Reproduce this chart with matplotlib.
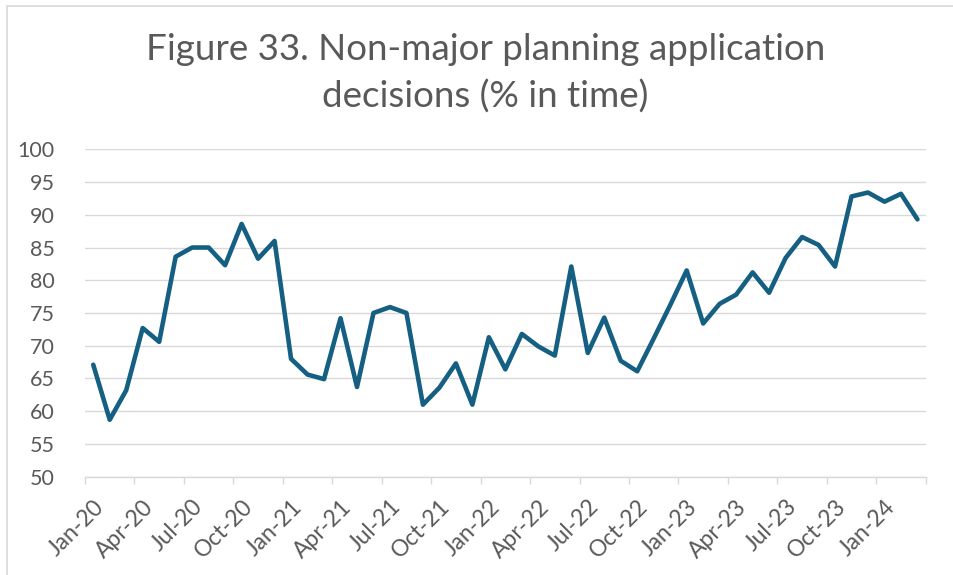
import matplotlib

matplotlib.use("Agg")
import matplotlib.pyplot as plt
from matplotlib.patches import Rectangle

# monthly share of non-major decisions made in time, Jan-20 .. Mar-24
pct_in_time = [
    67.1, 58.7, 63.2, 72.7, 70.6, 83.6, 85.0, 85.0, 82.3, 88.6, 83.3, 86.0,  # 2020
    68.0, 65.6, 64.9, 74.2, 63.7, 75.0, 75.9, 75.0, 61.0, 63.6, 67.3, 61.0,  # 2021
    71.3, 66.4, 71.8, 69.9, 68.5, 82.1, 68.9, 74.3, 67.7, 66.1, 71.1, 76.2,  # 2022
    81.5, 73.4, 76.4, 77.8, 81.2, 78.1, 83.4, 86.6, 85.4, 82.1, 92.8, 93.4,  # 2023
    92.0, 93.2, 89.3,                                                         # 2024
]
quarter_labels = ["Jan-20", "Apr-20", "Jul-20", "Oct-20", "Jan-21", "Apr-21",
                  "Jul-21", "Oct-21", "Jan-22", "Apr-22", "Jul-22", "Oct-22",
                  "Jan-23", "Apr-23", "Jul-23", "Oct-23", "Jan-24"]
title_lines = ["Figure 33. Non-major planning application",
               "decisions (% in time)"]

LINE = "#156082"
GRID = "#D9D9D9"
TEXT = "#595959"
FONT = ["Lato", "DejaVu Sans"]
W, H = 954, 575

fig = plt.figure(figsize=(W / 100, H / 100), dpi=100)
fig.patches.append(Rectangle((7 / W, -0.01), 1.02, 1 - 6 / H + 0.01,
                             transform=fig.transFigure, fill=False,
                             edgecolor=GRID, lw=1.2))

ax = fig.add_axes([85 / W, (H - 476.7) / H, 840.7 / W, 327.4 / H])
n = len(pct_in_time)
x = list(range(n))
ax.plot(x, pct_in_time, color=LINE, lw=3.3, solid_joinstyle="round",
        solid_capstyle="round", zorder=3)

ax.set_xlim(-0.5, n - 0.5)
ax.set_ylim(50, 100)
ax.set_yticks(range(50, 101, 5))
ax.grid(axis="y", color=GRID, lw=1.0)
ax.set_axisbelow(True)

# tick marks sit between categories, labels under every third month
ax.set_xticks([i - 0.5 for i in range(0, n + 1, 3)])
ax.set_xticklabels([])
ax.set_xticks(list(range(0, n, 3)), minor=True)
ax.set_xticklabels(quarter_labels, minor=True, rotation=45, ha="right",
                   rotation_mode="anchor", fontsize=16.5, color=TEXT,
                   family=FONT)
ax.tick_params(axis="x", which="major", direction="out", length=5,
               color=GRID, width=1.0)
ax.tick_params(axis="x", which="minor", length=0, pad=14)
ax.tick_params(axis="y", length=0, pad=22, labelsize=15.5, labelcolor=TEXT)
for lbl in ax.get_yticklabels():
    lbl.set_family(FONT)

for side in ("top", "left", "right"):
    ax.spines[side].set_visible(False)
ax.spines["bottom"].set_color(GRID)
ax.spines["bottom"].set_linewidth(1.0)

cx = 0.5 * (148 + 823) / W
for line, base in zip(title_lines, (60, 108)):
    fig.text(cx, 1 - base / H, line, ha="center", va="baseline",
             fontsize=26.5, color=TEXT, family=FONT)

fig.savefig("out.png", dpi=100)
